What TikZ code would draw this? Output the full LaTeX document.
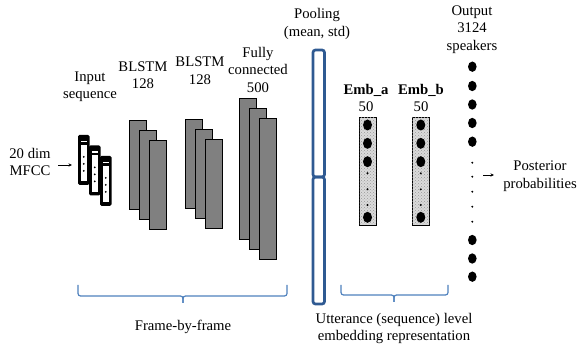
\documentclass[tikz,border=0pt]{standalone}
\usepackage{fontspec}
\setmainfont{Liberation Serif}
\usetikzlibrary{patterns,arrows.meta}
\definecolor{poolblue}{HTML}{2F5A92}
\definecolor{braceblue}{HTML}{4F81BD}
\definecolor{layergray}{HTML}{808080}
\begin{document}
\begin{tikzpicture}[x=1pt,y=-1pt,
  lbl/.style={font=\fontsize{14.7}{17.5}\selectfont, align=center, inner sep=0pt},
  layer/.style={draw=black, fill=layergray, line width=0.7pt},
  pool/.style={draw=poolblue, line width=2.7pt, rounded corners=2.5pt},
  emb/.style={draw=black, line width=0.8pt, fill=gray!28, postaction={pattern=crosshatch dots, pattern color=gray!80}},
  brace/.style={draw=braceblue, line width=1.2pt, rounded corners=2.5pt},
  arr/.style={-{Stealth[length=3.5pt,width=3.2pt]}, line width=0.6pt},
]
\useasboundingbox (0,0) rectangle (581,347);

% input sequence boxes
\foreach \i in {0,1,2}{
  \pgfmathsetmacro{\xo}{78+11*\i}
  \pgfmathsetmacro{\yo}{135+10.5*\i}
  \fill[black, rounded corners=1.5pt] (\xo,\yo) rectangle ({\xo+11.5},{\yo+50});
  \fill[white] ({\xo+3},{\yo+10}) rectangle ({\xo+8.5},{\yo+46.5});
  \fill[white] ({\xo+3},{\yo+6}) rectangle ({\xo+8.5},{\yo+7.5});
  \foreach \yy in {22,29,36}
    \fill[black] ({\xo+5.75},{\yo+\yy}) circle (1);
}

% BLSTM 1, BLSTM 2, Fully connected
\foreach \dx in {0,10,20}{
  \draw[layer] ({129+\dx},{120+\dx}) rectangle ({146+\dx},{209+\dx});
  \draw[layer] ({185.5+\dx},{119+\dx}) rectangle ({202+\dx},{208+\dx});
  \draw[layer] ({239.5+\dx},{98+\dx}) rectangle ({256+\dx},{239+\dx});
}

% pooling
\draw[pool] (313,50) rectangle (324.5,177);
\draw[pool] (313,177) rectangle (324.5,304);

% embeddings
\foreach \cx/\xa/\xb in {367.5/359/376, 420.8/412.3/429.3}{
  \draw[emb] (\xa,117) rectangle (\xb,225);
  \foreach \yy in {125,143.3,161.7,217.3}
    \fill[black] (\cx,\yy) ellipse (4.5 and 5.5);
  \foreach \yy in {173.3,189.3,205}
    \fill[black] (\cx,\yy) circle (1.1);
}

% output dots
\foreach \yy in {66.7,86,104.5,123,141.7,240,258.5,276.7}
  \fill[black] (472.3,\yy) ellipse (4.3 and 5.2);
\foreach \yy in {162.7,176.7,191.7,206.7,221.7}
  \fill[black] (472.3,\yy) circle (1.1);

% brackets
\draw[brace] (78,285) -- (78,296) -- (183,296) -- (183,303);
\draw[brace] (287,285) -- (287,296) -- (183,296) -- (183,303);
\draw[brace] (341,285) -- (341,295) -- (394,295) -- (394,302);
\draw[brace] (448,285) -- (448,295) -- (394,295) -- (394,302);

% labels
\node[lbl] (mfcc) at (30,162) {20 dim\\MFCC};
\node[lbl] (inseq) at (90,87) {Input\\sequence};
\node[lbl] (blstma) at (143,75) {BLSTM\\128};
\node[lbl] (blstmb) at (200,70.5) {BLSTM\\128};
\node[lbl] (fc) at (258,69.5) {Fully\\connected\\500};
\node[lbl] (pooling) at (317,24) {Pooling\\(mean, std)};
\node[lbl] (emba) at (366,98) {\textbf{Emb\_a}\\50};
\node[lbl] (embb) at (421,98) {\textbf{Emb\_b}\\50};
\node[lbl] (output) at (472,29.5) {Output\\3124\\speakers};
\node[lbl] (post) at (540,176) {Posterior\\probabilities};
\node[lbl] (frame) at (183,327) {Frame-by-frame};
\node[lbl] (utt) at (394,328.5) {Utterance (sequence) level\\embedding representation};

% arrows
\coordinate (mfccA) at (58,165);
\coordinate (mfccB) at (72,165);
\draw[arr] (mfccA) -- (mfccB);
\coordinate (postA) at (483,175);
\coordinate (postB) at (494,175);
\draw[arr] (postA) -- (postB);
\end{tikzpicture}
\end{document}
